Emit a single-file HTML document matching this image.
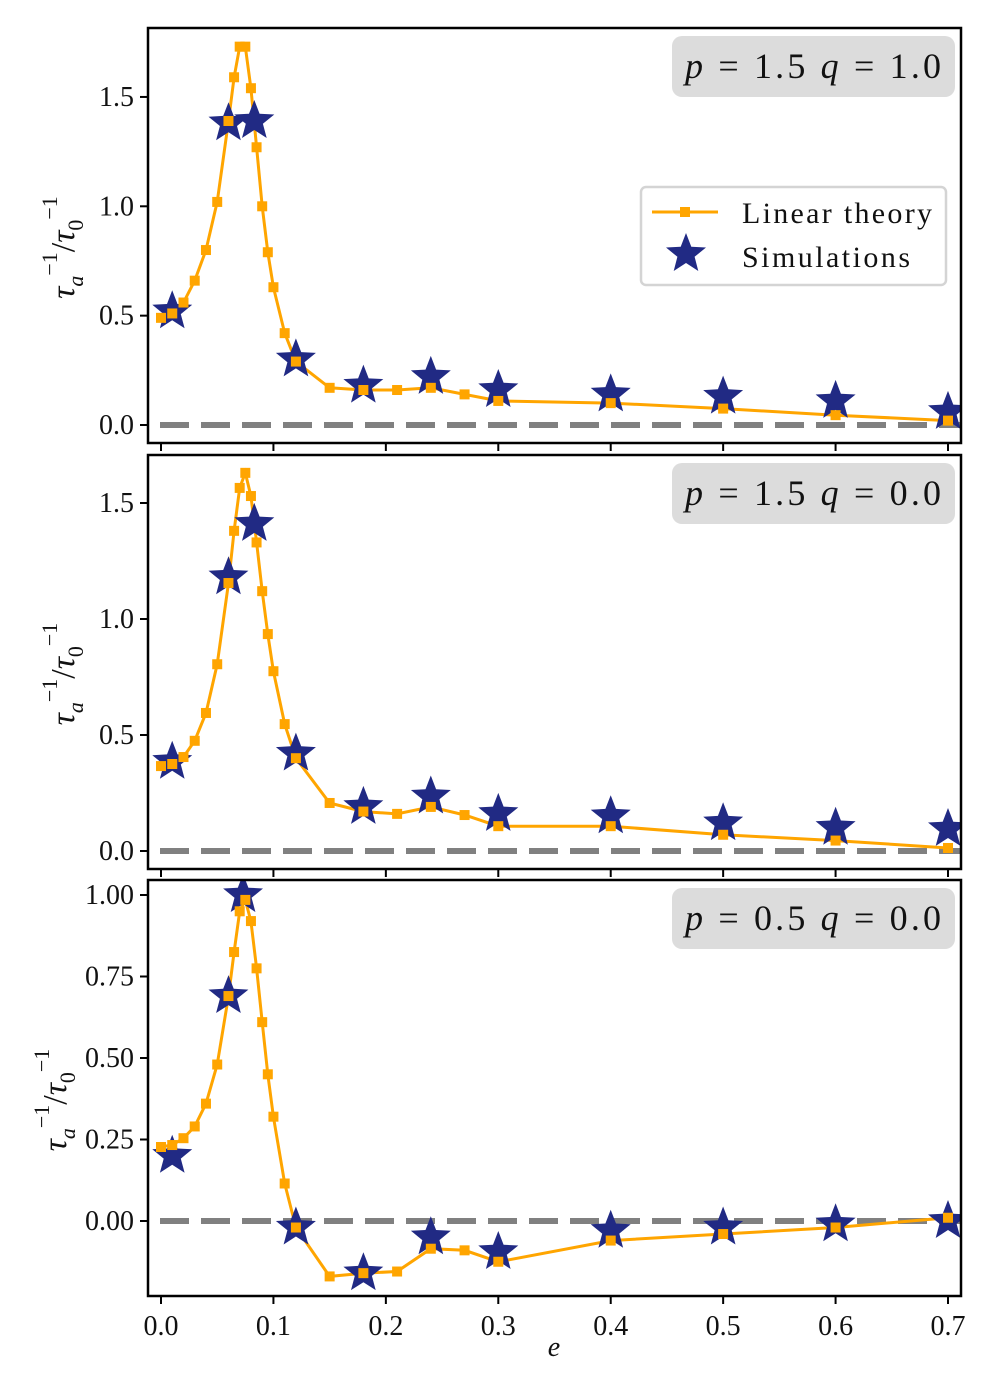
<!DOCTYPE html>
<html><head><meta charset="utf-8"><style>
body{margin:0;background:#fff;}
svg{display:block;}
text{font-family:"Liberation Serif","DejaVu Serif",serif;fill:#111;}
</style></head><body>
<svg id="chart" width="997" height="1390" viewBox="0 0 997 1390" xmlns="http://www.w3.org/2000/svg"></svg>
<script>
const eTheory = [0,0.01,0.02,0.03,0.04,0.05,0.06,0.065,0.07,0.075,0.08,0.085,0.09,0.095,0.1,0.11,0.12,0.15,0.18,0.21,0.24,0.27,0.3,0.4,0.5,0.6,0.7];
const theory1 = [0.49,0.51,0.56,0.66,0.80,1.02,1.39,1.59,1.73,1.73,1.54,1.27,1.00,0.79,0.63,0.42,0.29,0.17,0.16,0.16,0.17,0.14,0.11,0.10,0.075,0.045,0.02];
const theory2 = [0.366,0.375,0.405,0.475,0.595,0.805,1.155,1.38,1.565,1.63,1.53,1.33,1.12,0.935,0.775,0.547,0.40,0.207,0.17,0.16,0.19,0.155,0.107,0.107,0.07,0.045,0.013];
const theory3 = [0.227,0.233,0.254,0.29,0.36,0.48,0.69,0.825,0.95,0.985,0.92,0.775,0.61,0.45,0.32,0.115,-0.02,-0.17,-0.16,-0.155,-0.085,-0.09,-0.125,-0.06,-0.04,-0.02,0.01];
const eSim1 = [0.01,0.06,0.083,0.12,0.18,0.24,0.3,0.4,0.5,0.6,0.7];
const sim1 = [0.52,1.38,1.39,0.30,0.18,0.22,0.16,0.14,0.13,0.11,0.06];
const eSim2 = [0.01,0.06,0.083,0.12,0.18,0.24,0.3,0.4,0.5,0.6,0.7];
const sim2 = [0.385,1.18,1.41,0.42,0.19,0.235,0.16,0.15,0.12,0.10,0.095];
const eSim3 = [0.01,0.06,0.073,0.12,0.18,0.24,0.3,0.4,0.5,0.6,0.7];
const sim3 = [0.20,0.69,1.0,-0.02,-0.16,-0.05,-0.095,-0.03,-0.02,-0.01,0.0];
const xTicks = [0,0.1,0.2,0.3,0.4,0.5,0.6,0.7];
const xTickLabels = ["0.0","0.1","0.2","0.3","0.4","0.5","0.6","0.7"];
const yTicks12 = [0,0.5,1.0,1.5];
const yTickLabels12 = ["0.0","0.5","1.0","1.5"];
const yTicks3 = [0,0.25,0.5,0.75,1.0];
const yTickLabels3 = ["0.00","0.25","0.50","0.75","1.00"];

const NS="http://www.w3.org/2000/svg";
const svg=document.getElementById('chart');
function mk(tag,attrs,parent){const el=document.createElementNS(NS,tag);for(const k in attrs)el.setAttribute(k,attrs[k]);(parent||svg).appendChild(el);return el;}
const X0=148,X1=961;
const xs=v=>161+v*1124.3;
function starPath(cx,cy,R,r){let d='';for(let i=0;i<10;i++){const a=-Math.PI/2+i*Math.PI/5;const rr=i%2?r:R;d+=(i?'L':'M')+(cx+rr*Math.cos(a)).toFixed(1)+','+(cy+rr*Math.sin(a)).toFixed(1);}return d+'Z';}

const panels=[
 {top:28,bot:443,y0:425,ppu:218.7,th:theory1,es:eSim1,sim:sim1,yt:yTicks12,yl:yTickLabels12},
 {top:455,bot:869,y0:851,ppu:232,th:theory2,es:eSim2,sim:sim2,yt:yTicks12,yl:yTickLabels12},
 {top:880,bot:1296,y0:1221,ppu:326,th:theory3,es:eSim3,sim:sim3,yt:yTicks3,yl:yTickLabels3}
];
panels.forEach((p,pi)=>{
 const g=mk('g',{});
 
 
 const ys=v=>p.y0-v*p.ppu;
 const clip=mk('clipPath',{id:'c'+pi},g);
 mk('rect',{x:X0,y:p.top,width:X1-X0,height:p.bot-p.top},clip);
 const ref=mk('line',{x1:X0+12,x2:X1,y1:ys(0),y2:ys(0),stroke:'#808080','stroke-width':6,'stroke-dasharray':'29,12'},g);
 
 
 const inner=mk('g',{'clip-path':'url(#c'+pi+')'},g);
 const pts=eTheory.map((e,i)=>xs(e).toFixed(1)+','+ys(p.th[i]).toFixed(1)).join(' ');
 const line=mk('polyline',{points:pts,fill:'none',stroke:'#ffa500','stroke-width':3},inner);
 
 
 p.es.forEach((e,i)=>{
  const s=mk('path',{d:starPath(xs(e),ys(p.sim[i]),21,9),fill:'#212a84'},inner);
  
  
 });
 eTheory.forEach((e,i)=>{
  const r=mk('rect',{x:xs(e)-5,y:ys(p.th[i])-5,width:10,height:10,fill:'#ffa500'},inner);
  
  
 });
 const fr=mk('rect',{x:X0,y:p.top,width:X1-X0,height:p.bot-p.top,fill:'none',stroke:'#000','stroke-width':2.5},g);
 
 
 p.yt.forEach((v,i)=>{
  mk('line',{x1:X0-8,x2:X0,y1:ys(v),y2:ys(v),stroke:'#000','stroke-width':2},g);
  const t=mk('text',{x:X0-14,y:ys(v)+9,'text-anchor':'end','font-size':28},g);
  t.textContent=p.yl[i];
  
  
 });
 xTicks.forEach((v,i)=>{
  mk('line',{x1:xs(v),x2:xs(v),y1:p.bot,y2:p.bot+8,stroke:'#000','stroke-width':2},g);
  if(pi===2){
   const t=mk('text',{x:xs(v),y:p.bot+39,'text-anchor':'middle','font-size':28},g);
   t.textContent=xTickLabels[i];
   
   
  }
 });
 const cy=(p.top+p.bot)/2;
 const yl=mk('text',{x:0,y:0,'font-size':34,'text-anchor':'middle',transform:'translate('+(pi===2?66:74)+','+(cy+12)+') rotate(-90)'},g);
 yl.innerHTML='<tspan font-style="italic">τ</tspan><tspan font-size="22" font-style="italic" dy="9">a</tspan><tspan font-size="22" dy="-26">−1</tspan><tspan dy="17">/</tspan><tspan font-style="italic">τ</tspan><tspan font-size="22" dy="9">0</tspan><tspan font-size="22" dy="-26">−1</tspan>';
 
 
 const bx=mk('rect',{x:672,y:p.top+8,width:283,height:61,rx:10,fill:'#dcdcdc'},g);
 
 
 const bt=mk('text',{x:685,y:p.top+50,'font-size':36,textLength:256,lengthAdjust:'spacing'},g);
 bt.innerHTML='<tspan font-style="italic">p</tspan> = '+['1.5','1.5','0.5'][pi]+' <tspan font-style="italic">q</tspan> = '+['1.0','0.0','0.0'][pi];
 
 
});
const xl=mk('text',{x:554,y:1356,'text-anchor':'middle','font-size':28,'font-style':'italic'});
xl.textContent='e';


const lg=mk('g',{});


mk('rect',{x:641,y:187,width:305,height:98,rx:5,fill:'#fff',stroke:'#d4d4d4','stroke-width':2.5},lg);
mk('line',{x1:652,x2:718,y1:212,y2:212,stroke:'#ffa500','stroke-width':3},lg);
mk('rect',{x:680,y:207,width:10,height:10,fill:'#ffa500'},lg);
mk('path',{d:starPath(686,254,21,9),fill:'#212a84'},lg);
const l1=mk('text',{x:742,y:223,'font-size':30,textLength:190,lengthAdjust:'spacing'},lg);l1.textContent='Linear theory';


const l2=mk('text',{x:742,y:267,'font-size':30,textLength:168,lengthAdjust:'spacing'},lg);l2.textContent='Simulations';


</script>
</body></html>
